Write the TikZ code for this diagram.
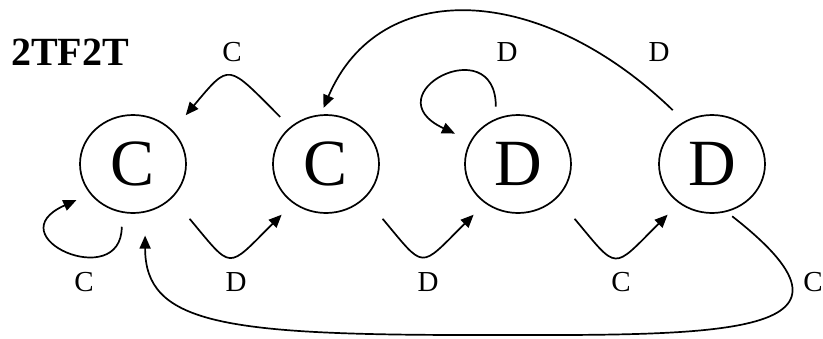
\documentclass[tikz,border=0pt]{standalone}
\usepackage{fontspec}
\setmainfont{Liberation Serif}
\usetikzlibrary{shapes.geometric,arrows.meta}
\begin{document}
\begin{tikzpicture}[x=1pt,y=1pt,line width=1.7pt,
  state/.style={draw,ellipse,minimum width=106pt,minimum height=98pt,inner sep=0pt,font=\fontsize{66}{66}\selectfont},
  lbl/.style={font=\fontsize{29}{29}\selectfont},
  hop/.style={out=-50,in=-135,looseness=2,shorten <=27pt,shorten >=16pt},
  >={Triangle[length=13pt,width=11pt]}]
  \useasboundingbox (0,0) rectangle (823,-338);
  \node[font=\fontsize{40}{40}\selectfont\bfseries] (title) at (70,-52) {2TF2T};
  \node[state] (c1) at (133,-164) {C};
  \node[state] (c2) at (326,-164) {C};
  \node[state] (d1) at (518,-164) {D};
  \node[state] (d2) at (712,-164) {D};
  \draw[->,out=135,in=50,looseness=1.95,shorten <=14pt,shorten >=20pt] (c2.134) to (c1.40);
  \draw[->,shorten <=14pt,shorten >=15pt] (c1.-103) .. controls +(-90:80) and +(204:105) .. (c1.-145);
  \draw[->,hop] (c1.-41) to (c2.-130);
  \draw[->,hop] (c2.-41) to (d1.-130);
  \draw[->,hop] (d1.-41) to (d2.-130);
  \draw[->,shorten <=12pt,shorten >=17pt] (d1.116) .. controls +(90:90) and +(155:110) .. (d1.154);
  \draw[->,shorten <=16pt,shorten >=7pt] (d2.123) .. controls +(136:200) and +(67:150) .. (c2.96);
  \coordinate (low) at (470,-335);
  \draw[->,shorten <=7pt,shorten >=23pt] (d2.-73) .. controls +(-38:210) and +(0:240) .. (low) .. controls +(-250,0) and +(0,-110) .. (c1.-76);
  \node[lbl] (lcc) at (232,-52) {C};
  \node[lbl] (ldd) at (507,-52) {D};
  \node[lbl] (ldc) at (659,-52) {D};
  \node[lbl] (lc1) at (84,-282) {C};
  \node[lbl] (lc2) at (236,-282) {D};
  \node[lbl] (ld1) at (428,-282) {D};
  \node[lbl] (ld2) at (621,-282) {C};
  \node[lbl] (lback) at (813,-282) {C};
\end{tikzpicture}
\end{document}
